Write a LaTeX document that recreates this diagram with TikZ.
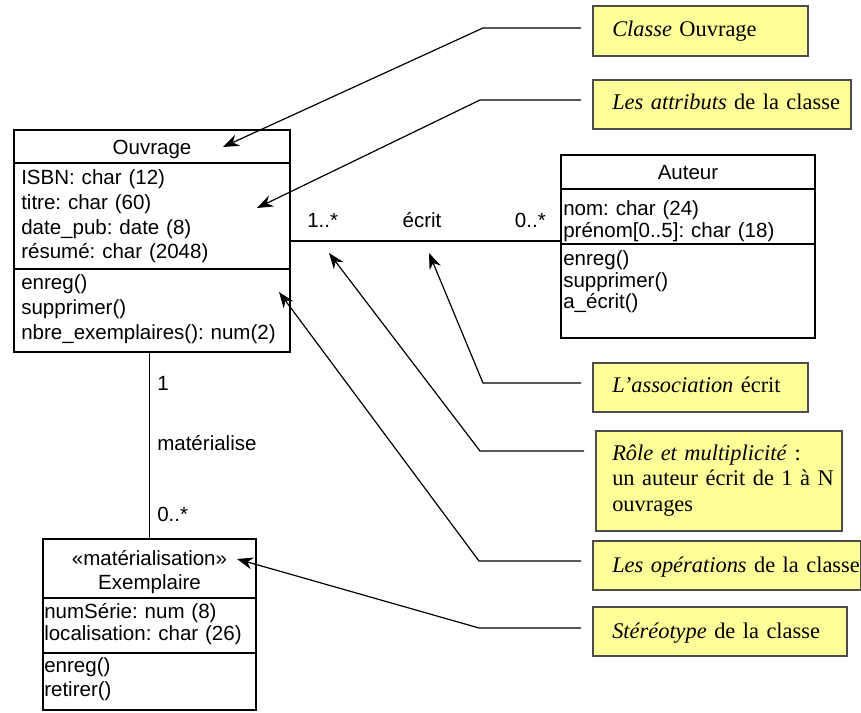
\documentclass[tikz,border=0pt]{standalone}
\usepackage{fontspec}
\setmainfont{Liberation Serif}
\setsansfont{Liberation Sans}
\usetikzlibrary{arrows.meta}
\frenchspacing

\definecolor{noteyellow}{RGB}{255,255,153}
\newcommand{\umlfont}[1]{\sffamily\fontsize{15.4}{#1}\selectfont}
\newcommand{\notefont}{\rmfamily\fontsize{16.8}{19.4}\selectfont}

\begin{document}
\begin{tikzpicture}[x=0.75pt, y=-0.75pt,
	compart/.style={draw, line width=0.9pt, inner sep=0pt, outer sep=0pt, anchor=north west},
	member/.style={anchor=base west, inner sep=0pt, align=left, text width=250pt},
	classname/.style={anchor=base, inner sep=0pt, align=center, text width=180pt},
	role/.style={inner sep=0pt, font=\umlfont{18}},
	note/.style={draw=black!70, line width=1.4pt, fill=noteyellow, inner sep=0pt, outer sep=0pt, anchor=north west},
	notetext/.style={anchor=base west, inner sep=0pt, align=left, text width=200pt, font=\notefont},
	callout/.style={line width=0.9pt, -{Stealth[length=12pt, width=9pt]}},
	assoc/.style={line width=0.9pt}
]
	\useasboundingbox (0,0) rectangle (861,713);

	% ---- classe Ouvrage

	\node[compart, minimum width=207pt, minimum height=24.75pt] (ouvName) at (14,130) {};
	\node[compart, minimum width=207pt, minimum height=79.5pt] (ouvAttr) at (ouvName.south west) {};
	\node[compart, minimum width=207pt, minimum height=62.25pt] (ouvOps) at (ouvAttr.south west) {};

	\node[classname, font=\umlfont{18}] (ouvTitle) at (152,155) {Ouvrage};
	\node[member, font=\umlfont{18.45}] (ouvAttrTxt) at (21,185)
		{ISBN: char (12)\\titre: char (60)\\date\_pub: date (8)\\résumé: char (2048)};
	\node[member, font=\umlfont{18.4}] (ouvOpsTxt) at (21,290)
		{enreg()\\supprimer()\\nbre\_exemplaires(): num(2)};

	% ---- classe Auteur

	\node[compart, minimum width=190.5pt, minimum height=25.5pt] (autName) at (561,155) {};
	\node[compart, minimum width=190.5pt, minimum height=41.25pt] (autAttr) at (autName.south west) {};
	\node[compart, minimum width=190.5pt, minimum height=70.5pt] (autOps) at (autAttr.south west) {};

	\node[classname, font=\umlfont{18}] (autTitle) at (688,180) {Auteur};
	\node[member, font=\umlfont{16.5}] (autAttrTxt) at (563,216)
		{nom: char (24)\\prénom[0..5]: char (18)};
	\node[member, font=\umlfont{16.1}] (autOpsTxt) at (563,266)
		{enreg()\\supprimer()\\a\_écrit()};

	% ---- classe Exemplaire

	\node[compart, minimum width=159.75pt, minimum height=44.25pt] (exName) at (43,539) {};
	\node[compart, minimum width=159.75pt, minimum height=41.25pt] (exAttr) at (exName.south west) {};
	\node[compart, minimum width=159.75pt, minimum height=42.75pt] (exOps) at (exAttr.south west) {};

	\node[classname, font=\umlfont{18}] (exTitle) at (149.5,565)
		{«matérialisation»\\Exemplaire};
	\node[member, font=\umlfont{16.5}] (exAttrTxt) at (44,618)
		{numSérie: num (8)\\localisation: char (26)};
	\node[member, font=\umlfont{18}] (exOpsTxt) at (44,672)
		{enreg()\\retirer()};

	% ---- associations

	\draw[assoc] ([yshift=2.25pt]autAttr.south west) coordinate (ecritEnd) -- (ecritEnd -| ouvAttr.east);
	\draw[assoc] (exName.north) -- (exName.north |- ouvOps.south);

	\node[role, anchor=base west] (multOuv) at (307,228) {1..*};
	\node[role, anchor=base] (ecrit) at (422,228) {écrit};
	\node[role, anchor=base east] (multAut) at (546,228) {0..*};

	\node[role, anchor=base west] (multUn) at (157,390) {1};
	\node[role, anchor=base west] (materialise) at (157,450) {matérialise};
	\node[role, anchor=base west] (multEx) at (157,521) {0..*};

	% ---- notes

	\node[note, minimum width=161.25pt, minimum height=37.5pt] (nClasse) at (593,6) {};
	\node[note, minimum width=193.5pt, minimum height=36.75pt] (nAttr) at (593,80) {};
	\node[note, minimum width=161.25pt, minimum height=36.75pt] (nAssoc) at (593,363) {};
	\node[note, minimum width=184.5pt, minimum height=75pt] (nRole) at (596,431) {};
	\node[note, minimum width=201pt, minimum height=36.75pt] (nOps) at (593,541) {};
	\node[note, minimum width=190.5pt, minimum height=36.75pt] (nStereo) at (593,607) {};

	\node[notetext] (tClasseTxt) at (612,37) {\textit{Classe} Ouvrage};
	\node[notetext] (tAttrTxt) at (612,110) {\textit{Les attributs} de la classe};
	\node[notetext] (tAssocTxt) at (612,392) {\textit{L’association} écrit};
	\node[notetext] (tRoleTxt) at (612,460)
		{\textit{Rôle et multiplicité} :\\un auteur écrit de 1 à N\\ouvrages};
	\node[notetext] (tOpsTxt) at (612,572) {\textit{Les opérations} de la classe};
	\node[notetext] (tStereoTxt) at (612,638) {\textit{Stéréotype} de la classe};

	% ---- callouts

	\coordinate (tClasse) at (223,147);
	\coordinate (tAttr) at (257,208);
	\coordinate (tAssoc) at (429,253);
	\coordinate (tRole) at (329,253);
	\coordinate (tOps) at (279,292);
	\coordinate (tStereo) at (237,559);

	\draw[callout] ([xshift=-9pt,yshift=-16.5pt]nClasse.north west) -- ++(-98,0) -- (tClasse);
	\draw[callout] ([xshift=-9pt,yshift=-15pt]nAttr.north west) -- ++(-101,0) -- (tAttr);
	\draw[callout] ([xshift=-9pt,yshift=-15pt]nAssoc.north west) -- ++(-98,0) -- (tAssoc);
	\draw[callout] ([xshift=-9pt,yshift=-15pt]nRole.north west) -- ++(-104,0) -- (tRole);
	\draw[callout] ([xshift=-9pt,yshift=-15pt]nOps.north west) -- ++(-102,0) -- (tOps);
	\draw[callout] ([xshift=-9pt,yshift=-15.75pt]nStereo.north west) -- ++(-102,0) -- (tStereo);

\end{tikzpicture}
\end{document}
